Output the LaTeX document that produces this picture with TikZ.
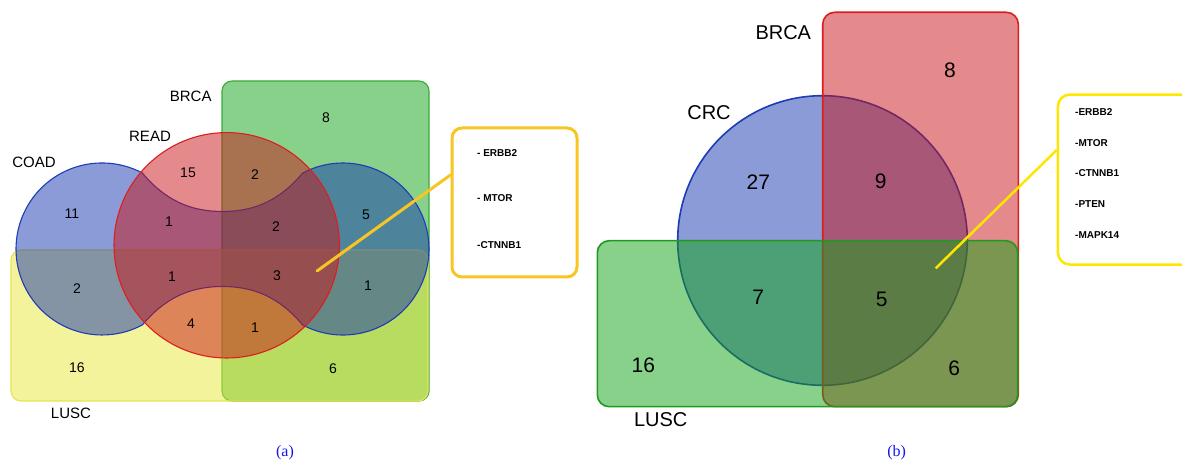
\documentclass[tikz,border=0pt]{standalone}
\usepackage{fontspec}
\setmainfont{Liberation Serif}
\setsansfont{Liberation Sans}
\begin{document}
\begin{tikzpicture}[x=1pt,y=1pt,
  set/.style={fill opacity=0.5, line width=1.1pt},
  lab/.style={font=\sffamily\fontsize{15}{17}\selectfont, inner sep=0pt},
  num/.style={font=\sffamily\fontsize{14}{16}\selectfont, inner sep=0pt},
  labb/.style={font=\sffamily\fontsize{20}{22}\selectfont, inner sep=0pt},
  numb/.style={font=\sffamily\fontsize{21}{23}\selectfont, inner sep=0pt},
  gene/.style={font=\sffamily\bfseries\fontsize{10}{12}\selectfont, inner sep=0pt, anchor=west},
  captxt/.style={font=\fontsize{16}{18}\selectfont, text=capblue, inner sep=0pt}]
\definecolor{gA}{RGB}{17,163,21}
\definecolor{gAline}{RGB}{60,170,60}
\definecolor{rA}{RGB}{201,21,25}
\definecolor{rAline}{RGB}{220,30,30}
\definecolor{bA}{RGB}{21,55,175}
\definecolor{bAline}{RGB}{30,60,180}
\definecolor{yA}{RGB}{231,231,55}
\definecolor{yAline}{RGB}{232,228,80}
\definecolor{gold}{RGB}{248,198,35}
\definecolor{yel}{RGB}{255,230,0}
\definecolor{capblue}{RGB}{20,20,235}
\definecolor{gBline}{RGB}{30,155,30}
\useasboundingbox (0,0) rectangle (1182,462);
\clip (0,0) rectangle (1182,462);

% ---------- panel (a) ----------
\draw[set, fill=gA, draw=gAline, rounded corners=10pt] (222,61) rectangle (429,381);
\draw[set, fill=yA, draw=yAline, rounded corners=10pt] (11,61) rectangle (428,212);
\draw[set, fill=bA, draw=bAline]
  (142.4,288.9) .. controls (165,262) and (190,250.5) .. (222.5,250.5)
  .. controls (255,250.5) and (280,262) .. (302.6,288.9)
  arc[start angle=118, end angle=-118, radius=86]
  .. controls (280,164) and (255,175.5) .. (222.5,175.5)
  .. controls (190,175.5) and (165,164) .. (142.4,137.1)
  arc[start angle=-62, end angle=-298, radius=86] -- cycle;
\draw[set, fill=rA, draw=rAline] (226.7,216.7) circle[radius=112.7];

\node[lab] (brcaA) at (190.7,366) {BRCA};
\node[lab] (readA) at (150,326) {READ};
\node[lab] (coadA) at (34,300) {COAD};
\node[lab] (luscA) at (71,49) {LUSC};

\node[num] (a8) at (326,344) {8};
\node[num] (a15) at (188,289) {15};
\node[num] (a2a) at (255,287) {2};
\node[num] (a11) at (72,248) {11};
\node[num] (a1a) at (169,240) {1};
\node[num] (a2b) at (276,235) {2};
\node[num] (a5) at (366,247) {5};
\node[num] (a1b) at (172,185) {1};
\node[num] (a3) at (277,186) {3};
\node[num] (a2c) at (77,173) {2};
\node[num] (a1c) at (368,176) {1};
\node[num] (a4) at (191,138) {4};
\node[num] (a1d) at (255,134) {1};
\node[num] (a16) at (77,94) {16};
\node[num] (a6) at (333,93) {6};

\coordinate (ptA) at (317,191);
\node[draw=gold, line width=3pt, rounded corners=10pt, minimum width=125pt, minimum height=149pt, inner sep=0pt] (boxA) at (514.5,259.5) {};
\draw[gold, line width=3pt, line cap=round] (ptA) -- (boxA.west |- 0,287);
\node[gene] (gA1) at (477,309) {- ERBB2};
\node[gene] (gA2) at (477,264) {- MTOR};
\node[gene] (gA3) at (477,217) {-CTNNB1};

\node[captxt] (capA) at (285,9) {(a)};

% ---------- panel (b) ----------
\draw[set, line width=1.6pt, fill=bA, draw=bAline] (822.5,221.5) circle[radius=144.8];
\draw[set, line width=1.6pt, fill=rA, draw=rAline, rounded corners=12pt] (822.7,55.3) rectangle (1018.3,449.7);
\draw[set, line width=1.6pt, fill=gA, draw=gBline, rounded corners=12pt] (597.3,55.3) rectangle (1017.7,221.3);

\node[labb] (brcaB) at (783.3,429.7) {BRCA};
\node[labb] (crcB) at (709,349.7) {CRC};
\node[labb] (luscB) at (660.7,42) {LUSC};

\node[numb] (b8) at (950,391.3) {8};
\node[numb] (b27) at (758.3,280.3) {27};
\node[numb] (b9) at (880.7,280.3) {9};
\node[numb] (b7) at (758.3,164.3) {7};
\node[numb] (b5) at (881.7,163) {5};
\node[numb] (b16) at (643.3,97) {16};
\node[numb] (b6) at (954.3,93.7) {6};

\coordinate (ptB) at (935.7,193.7);
\node[draw=yel, line width=2.5pt, rounded corners=12pt, minimum width=150pt, minimum height=170pt, inner sep=0pt, anchor=north west] (boxB) at (1056.7,368.7) {};
\draw[yel, line width=2.5pt] (ptB) -- (boxB.west |- 0,312);
\node[gene] (gB1) at (1075,350.3) {-ERBB2};
\node[gene] (gB2) at (1075,319.3) {-MTOR};
\node[gene] (gB3) at (1075,288.7) {-CTNNB1};
\node[gene] (gB4) at (1075,257.7) {-PTEN};
\node[gene] (gB5) at (1075,227) {-MAPK14};

\node[captxt] (capB) at (896.7,9) {(b)};
\end{tikzpicture}
\end{document}
